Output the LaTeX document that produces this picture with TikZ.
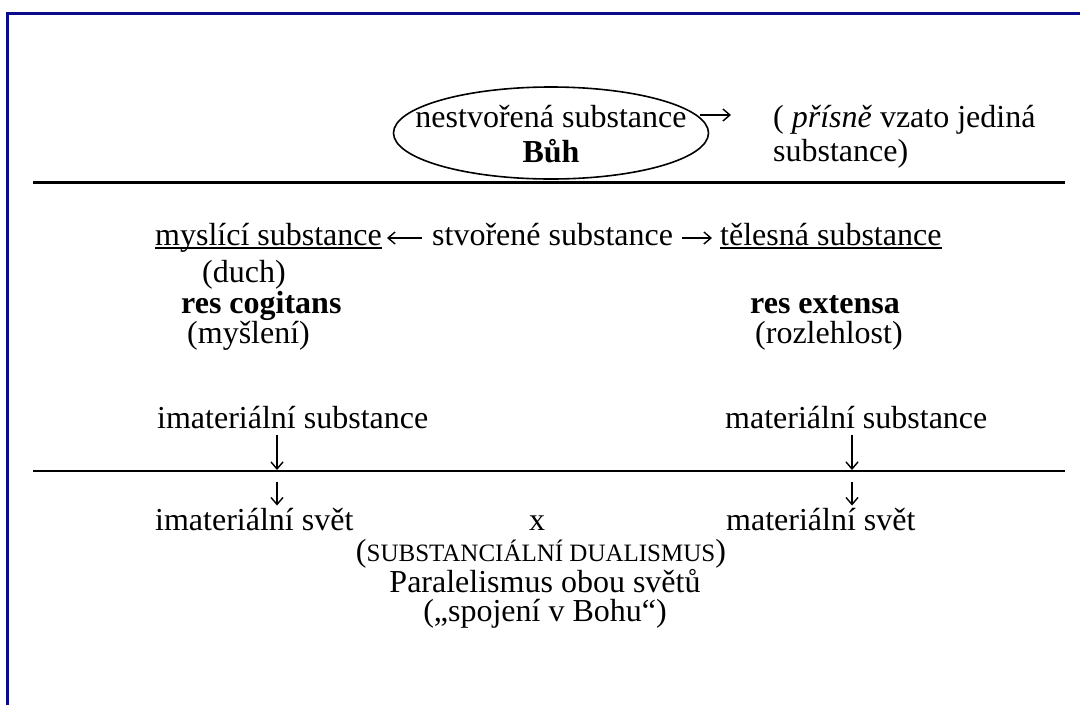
\documentclass[tikz,border=0pt]{standalone}
\usepackage{fontspec}
\setmainfont{Liberation Serif}
\usetikzlibrary{shapes.geometric,arrows.meta,calc}
\definecolor{framenavy}{RGB}{10,10,140}
\begin{document}
\begin{tikzpicture}[x=1pt,y=-1pt,
  txt/.style={inner sep=0pt, font=\fontsize{32}{36}\selectfont},
  bl/.style={txt, anchor=base west},
  bc/.style={txt, anchor=base},
  conn/.style={line width=1.4pt, -{Straight Barb[length=7pt,width=12pt]}},
  uline/.style={line width=1.5pt},
  ell/.style={ellipse, draw, line width=1.6pt, minimum width=315pt, minimum height=92pt, inner sep=0pt}]
\useasboundingbox (0,0) rectangle (1080,705);
% frame
\draw[framenavy, line width=3pt] (1080,13) -- (7,13) -- (7,705);
% top: uncreated substance
\node[ell] (god) at (551,133) {};
\node[bc] (godname) at (551,127) {nestvořená substance};
\node[bc,font=\fontsize{32}{36}\selectfont\bfseries] (buh) at (551,162) {Bůh};
\coordinate (noteArr) at (731,115);
\draw[conn] ($(god.east |- noteArr)+(-9,0)$) -- (noteArr);
\node[bl] (note1) at (773,127) {( \textit{přísně} vzato jediná};
\node[bl] (note2) at (773,161) {substance)};
\draw[line width=3pt] (33,182) -- (1065,182);
% created substances
\node[bl] (msub) at (155,245) {myslící substance};
\node[bl] (stv) at (432,245) {stvořené substance};
\node[bl] (tsub) at (720,245) {tělesná substance};
\draw[uline] ($(msub.base west)+(0,3)$) -- ($(msub.base east)+(0,3)$);
\draw[uline] ($(tsub.base west)+(0,3)$) -- ($(tsub.base east)+(0,3)$);
\draw[conn] ($(stv.base west)+(-10,-7)$) -- ($(msub.base east)+(5,-7)$);
\draw[conn] ($(stv.base east)+(9,-7)$) -- ($(tsub.base west)+(-8,-7)$);
% left column
\node[bl] (duch) at (202,282) {(duch)};
\node[bl,font=\fontsize{32}{36}\selectfont\bfseries] (rcog) at (181,313) {res cogitans};
\node[bl] (mysl) at (187,343) {(myšlení)};
% right column
\node[bl,font=\fontsize{32}{36}\selectfont\bfseries] (rext) at (750,313) {res extensa};
\node[bl] (rozl) at (755,343) {(rozlehlost)};
% immaterial / material
\node[bl] (isub) at (157,428) {imateriální substance};
\node[bl] (msubst) at (725,428) {materiální substance};
\draw[line width=1.8pt] (33,471) -- (1065,471);
\coordinate (lcut) at (277,470);
\coordinate (rcut) at (852,470);
\node[bl] (isvet) at (155,530) {imateriální svět};
\node[bc] (versus) at (537,530) {x};
\node[bl] (msvet) at (726,530) {materiální svět};
\draw[conn] ($(isub.south -| lcut)+(0,6)$) -- (lcut);
\draw[conn] ($(msubst.south -| rcut)+(0,6)$) -- (rcut);
\draw[conn] ($(lcut)+(0,12)$) -- ($(isvet.north -| lcut)+(0,-2)$);
\draw[conn] ($(rcut)+(0,12)$) -- ($(msvet.north -| rcut)+(0,-2)$);
% bottom block
\node[bc] (dual) at (541,561) {({\fontsize{25}{30}\selectfont SUBSTANCIÁLNÍ DUALISMUS})};
\node[bc] (paral) at (545,592) {Paralelismus obou světů};
\node[bc] (spoj) at (545,621) {(„spojení v Bohu“)};
\end{tikzpicture}
\end{document}
